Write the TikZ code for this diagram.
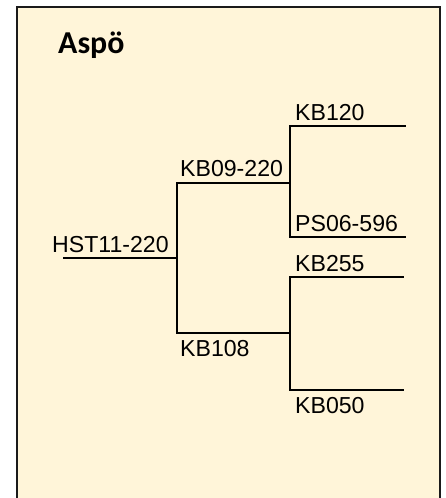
\documentclass[tikz,border=0pt]{standalone}
\usepackage{fontspec}
\setmainfont{Liberation Sans}
\newfontfamily\titlefont{Carlito}
\usetikzlibrary{positioning}
\definecolor{panelfill}{RGB}{255,245,217}
\definecolor{panelrule}{RGB}{26,26,26}
\tikzset{
    panel/.style={draw=panelrule, line width=2bp, fill=panelfill},
    branch/.style={draw=black, line width=2bp, line join=miter, line cap=rect},
    leaflabel/.style={inner sep=0pt, anchor=base west, font=\fontsize{23.2}{27}\selectfont},
    sitelabel/.style={inner sep=0pt, anchor=base west, font=\titlefont\bfseries\fontsize{32}{36}\selectfont}
}

\begin{document}
\begin{tikzpicture}[x=1bp, y=-1bp]
    \useasboundingbox (0,0) rectangle (446,498);
    \path[panel] (17,502) -- (17,7) -- (440,7) -- (440,502);

    \node[sitelabel] (site) at (58,54) {Aspö};

    % tree points
    \coordinate (root) at (64,258);
    \coordinate (j1) at (177,258);
    \coordinate (j2) at (290,183);
    \coordinate (j3) at (290,333);
    \coordinate (kb120) at (405,126);
    \coordinate (ps06) at (405,237);
    \coordinate (kb255) at (403,277);
    \coordinate (kb050) at (403,390);

    \draw[branch] (root) -- (j1);
    \draw[branch] (j1) |- (j2);
    \draw[branch] (j1) |- (j3);
    \draw[branch] (j2) |- (kb120);
    \draw[branch] (j2) |- (ps06);
    \draw[branch] (j3) |- (kb255);
    \draw[branch] (j3) |- (kb050);

    \node[leaflabel] (hst) at (52,252) {HST11-220};
    \node[leaflabel] (kb09lbl) at (180,177) {KB09-220};
    \node[leaflabel] (kb108lbl) at (180,356) {KB108};
    \node[leaflabel] (kb120lbl) at (295,121) {KB120};
    \node[leaflabel] (ps06lbl) at (295,231) {PS06-596};
    \node[leaflabel] (kb255lbl) at (295,271) {KB255};
    \node[leaflabel] (kb050lbl) at (295,413) {KB050};
\end{tikzpicture}
\end{document}
